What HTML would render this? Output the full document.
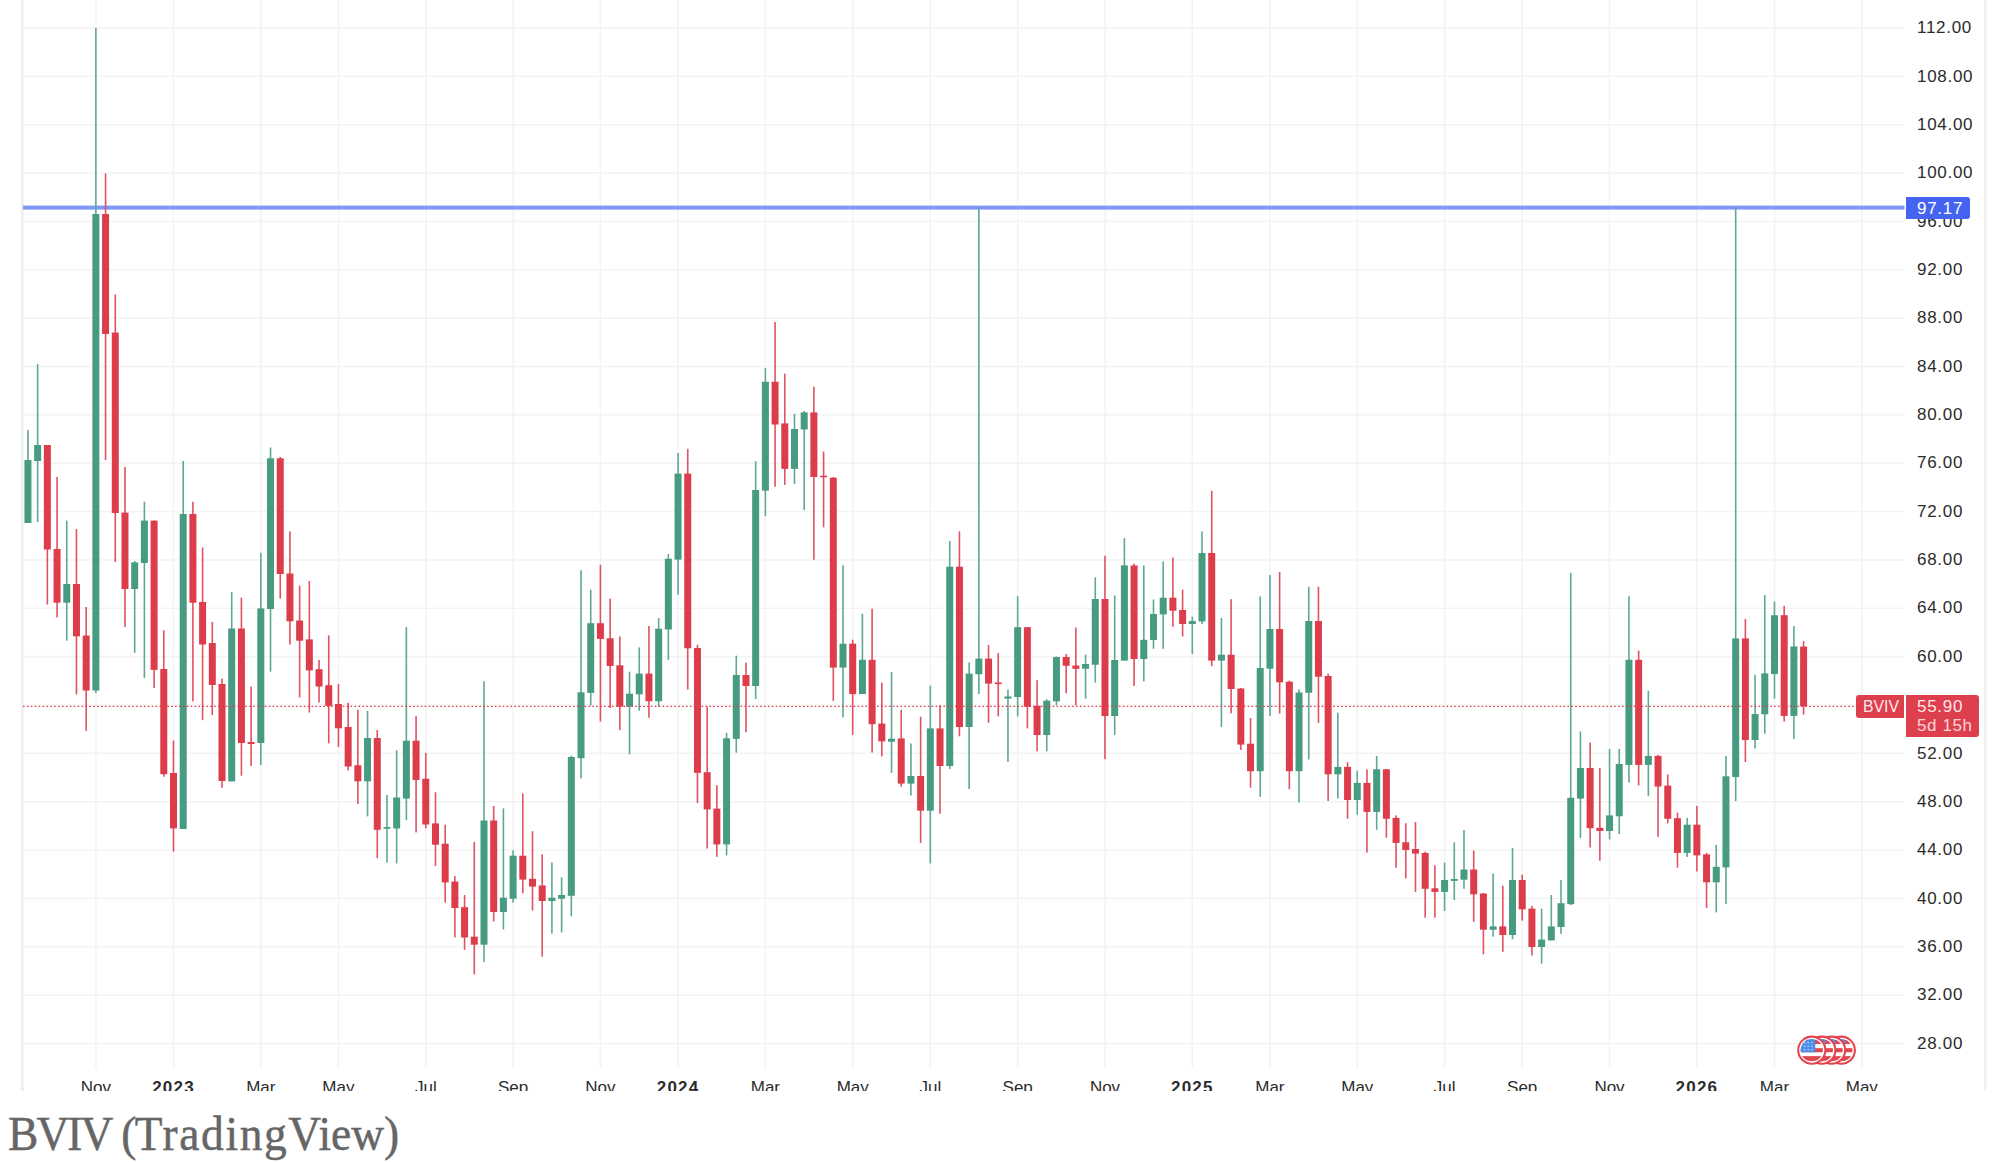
<!DOCTYPE html>
<html><head><meta charset="utf-8"><title>BVIV</title>
<style>
html,body{margin:0;padding:0;background:#fff;overflow:hidden;}
body{width:1994px;height:1162px;position:relative;overflow:hidden;}
#chart{position:absolute;left:0;top:0;width:1994px;height:1091px;overflow:hidden;background:#fff;}
#cap{position:absolute;left:8px;top:1106px;font-family:'Liberation Serif',serif;font-size:48.3px;color:#666;white-space:nowrap;line-height:56px;transform-origin:0 0;transform:scaleX(0.94);-webkit-text-stroke:0.5px #666;}
</style></head><body>
<div id="chart">
<svg width="1994" height="1091" viewBox="0 0 1994 1091" style="position:absolute;left:0;top:0">
<rect x="23" y="27.29" width="1881" height="1.5" fill="#f3f3f3"/>
<rect x="23" y="75.64" width="1881" height="1.5" fill="#f3f3f3"/>
<rect x="23" y="124.00" width="1881" height="1.5" fill="#f3f3f3"/>
<rect x="23" y="172.35" width="1881" height="1.5" fill="#f3f3f3"/>
<rect x="23" y="220.71" width="1881" height="1.5" fill="#f3f3f3"/>
<rect x="23" y="269.06" width="1881" height="1.5" fill="#f3f3f3"/>
<rect x="23" y="317.42" width="1881" height="1.5" fill="#f3f3f3"/>
<rect x="23" y="365.77" width="1881" height="1.5" fill="#f3f3f3"/>
<rect x="23" y="414.13" width="1881" height="1.5" fill="#f3f3f3"/>
<rect x="23" y="462.49" width="1881" height="1.5" fill="#f3f3f3"/>
<rect x="23" y="510.84" width="1881" height="1.5" fill="#f3f3f3"/>
<rect x="23" y="559.19" width="1881" height="1.5" fill="#f3f3f3"/>
<rect x="23" y="607.55" width="1881" height="1.5" fill="#f3f3f3"/>
<rect x="23" y="655.90" width="1881" height="1.5" fill="#f3f3f3"/>
<rect x="23" y="704.26" width="1881" height="1.5" fill="#f3f3f3"/>
<rect x="23" y="752.61" width="1881" height="1.5" fill="#f3f3f3"/>
<rect x="23" y="800.97" width="1881" height="1.5" fill="#f3f3f3"/>
<rect x="23" y="849.32" width="1881" height="1.5" fill="#f3f3f3"/>
<rect x="23" y="897.68" width="1881" height="1.5" fill="#f3f3f3"/>
<rect x="23" y="946.03" width="1881" height="1.5" fill="#f3f3f3"/>
<rect x="23" y="994.39" width="1881" height="1.5" fill="#f3f3f3"/>
<rect x="23" y="1042.74" width="1881" height="1.5" fill="#f3f3f3"/>
<rect x="95.12" y="0" width="1.5" height="1068" fill="#f3f3f3"/>
<rect x="172.74" y="0" width="1.5" height="1068" fill="#f3f3f3"/>
<rect x="260.07" y="0" width="1.5" height="1068" fill="#f3f3f3"/>
<rect x="337.70" y="0" width="1.5" height="1068" fill="#f3f3f3"/>
<rect x="425.02" y="0" width="1.5" height="1068" fill="#f3f3f3"/>
<rect x="512.35" y="0" width="1.5" height="1068" fill="#f3f3f3"/>
<rect x="599.68" y="0" width="1.5" height="1068" fill="#f3f3f3"/>
<rect x="677.30" y="0" width="1.5" height="1068" fill="#f3f3f3"/>
<rect x="764.63" y="0" width="1.5" height="1068" fill="#f3f3f3"/>
<rect x="851.96" y="0" width="1.5" height="1068" fill="#f3f3f3"/>
<rect x="929.58" y="0" width="1.5" height="1068" fill="#f3f3f3"/>
<rect x="1016.91" y="0" width="1.5" height="1068" fill="#f3f3f3"/>
<rect x="1104.23" y="0" width="1.5" height="1068" fill="#f3f3f3"/>
<rect x="1191.56" y="0" width="1.5" height="1068" fill="#f3f3f3"/>
<rect x="1269.18" y="0" width="1.5" height="1068" fill="#f3f3f3"/>
<rect x="1356.51" y="0" width="1.5" height="1068" fill="#f3f3f3"/>
<rect x="1443.84" y="0" width="1.5" height="1068" fill="#f3f3f3"/>
<rect x="1521.46" y="0" width="1.5" height="1068" fill="#f3f3f3"/>
<rect x="1608.79" y="0" width="1.5" height="1068" fill="#f3f3f3"/>
<rect x="1696.12" y="0" width="1.5" height="1068" fill="#f3f3f3"/>
<rect x="1773.74" y="0" width="1.5" height="1068" fill="#f3f3f3"/>
<rect x="1861.07" y="0" width="1.5" height="1068" fill="#f3f3f3"/>
<rect x="21.1" y="0" width="2.5" height="1091" fill="#eeeeee"/>
<rect x="1984.1" y="0" width="2.6" height="1091" fill="#f1f1f1"/>
<rect x="23" y="205.6" width="1881.5" height="4" fill="#7e97f8"/>
<rect x="27.15" y="430.0" width="1.6" height="93.0" fill="#5fa892"/>
<rect x="24.45" y="460.0" width="7" height="63.0" fill="#479b80"/>
<rect x="36.85" y="364.0" width="1.6" height="158.0" fill="#5fa892"/>
<rect x="34.15" y="445.0" width="7" height="16.0" fill="#479b80"/>
<rect x="46.56" y="445.0" width="1.6" height="159.5" fill="#e15161"/>
<rect x="43.86" y="445.0" width="7" height="104.5" fill="#dd3c4a"/>
<rect x="56.26" y="477.0" width="1.6" height="140.4" fill="#e15161"/>
<rect x="53.56" y="549.0" width="7" height="53.7" fill="#dd3c4a"/>
<rect x="65.96" y="520.6" width="1.6" height="120.1" fill="#5fa892"/>
<rect x="63.26" y="584.0" width="7" height="18.7" fill="#479b80"/>
<rect x="75.67" y="529.0" width="1.6" height="165.4" fill="#e15161"/>
<rect x="72.97" y="584.0" width="7" height="52.3" fill="#dd3c4a"/>
<rect x="85.37" y="607.0" width="1.6" height="124.0" fill="#e15161"/>
<rect x="82.67" y="635.5" width="7" height="55.0" fill="#dd3c4a"/>
<rect x="95.07" y="28.0" width="1.6" height="665.0" fill="#5fa892"/>
<rect x="92.37" y="214.0" width="7" height="476.5" fill="#479b80"/>
<rect x="104.77" y="173.5" width="1.6" height="286.5" fill="#e15161"/>
<rect x="102.07" y="214.0" width="7" height="120.0" fill="#dd3c4a"/>
<rect x="114.48" y="294.6" width="1.6" height="267.4" fill="#e15161"/>
<rect x="111.78" y="332.6" width="7" height="180.4" fill="#dd3c4a"/>
<rect x="124.18" y="467.0" width="1.6" height="160.0" fill="#e15161"/>
<rect x="121.48" y="512.6" width="7" height="76.4" fill="#dd3c4a"/>
<rect x="133.88" y="561.0" width="1.6" height="91.8" fill="#5fa892"/>
<rect x="131.18" y="562.4" width="7" height="26.6" fill="#479b80"/>
<rect x="143.59" y="501.7" width="1.6" height="176.3" fill="#5fa892"/>
<rect x="140.89" y="520.6" width="7" height="42.4" fill="#479b80"/>
<rect x="153.29" y="520.6" width="1.6" height="167.4" fill="#e15161"/>
<rect x="150.59" y="520.6" width="7" height="149.3" fill="#dd3c4a"/>
<rect x="162.99" y="630.3" width="1.6" height="146.4" fill="#e15161"/>
<rect x="160.29" y="669.0" width="7" height="105.2" fill="#dd3c4a"/>
<rect x="172.69" y="740.6" width="1.6" height="111.0" fill="#e15161"/>
<rect x="169.99" y="773.0" width="7" height="55.4" fill="#dd3c4a"/>
<rect x="182.40" y="461.0" width="1.6" height="368.0" fill="#5fa892"/>
<rect x="179.70" y="514.0" width="7" height="315.0" fill="#479b80"/>
<rect x="192.10" y="501.7" width="1.6" height="199.7" fill="#e15161"/>
<rect x="189.40" y="514.0" width="7" height="88.7" fill="#dd3c4a"/>
<rect x="201.80" y="547.4" width="1.6" height="172.8" fill="#e15161"/>
<rect x="199.10" y="602.0" width="7" height="42.5" fill="#dd3c4a"/>
<rect x="211.51" y="622.0" width="1.6" height="93.0" fill="#e15161"/>
<rect x="208.81" y="643.0" width="7" height="42.0" fill="#dd3c4a"/>
<rect x="221.21" y="678.6" width="1.6" height="109.2" fill="#e15161"/>
<rect x="218.51" y="684.0" width="7" height="97.0" fill="#dd3c4a"/>
<rect x="230.91" y="592.0" width="1.6" height="189.4" fill="#5fa892"/>
<rect x="228.21" y="628.5" width="7" height="152.9" fill="#479b80"/>
<rect x="240.62" y="597.6" width="1.6" height="178.1" fill="#e15161"/>
<rect x="237.92" y="628.5" width="7" height="114.5" fill="#dd3c4a"/>
<rect x="250.32" y="686.6" width="1.6" height="79.4" fill="#e15161"/>
<rect x="247.62" y="742.0" width="7" height="2.0" fill="#dd3c4a"/>
<rect x="260.02" y="552.8" width="1.6" height="212.2" fill="#5fa892"/>
<rect x="257.32" y="608.4" width="7" height="134.6" fill="#479b80"/>
<rect x="269.72" y="447.5" width="1.6" height="224.2" fill="#5fa892"/>
<rect x="267.02" y="458.3" width="7" height="150.7" fill="#479b80"/>
<rect x="279.43" y="457.0" width="1.6" height="141.6" fill="#e15161"/>
<rect x="276.73" y="458.3" width="7" height="115.7" fill="#dd3c4a"/>
<rect x="289.13" y="531.4" width="1.6" height="113.1" fill="#e15161"/>
<rect x="286.43" y="573.5" width="7" height="47.8" fill="#dd3c4a"/>
<rect x="298.83" y="585.6" width="1.6" height="111.9" fill="#e15161"/>
<rect x="296.13" y="620.5" width="7" height="20.2" fill="#dd3c4a"/>
<rect x="308.54" y="581.0" width="1.6" height="131.5" fill="#e15161"/>
<rect x="305.84" y="639.4" width="7" height="31.0" fill="#dd3c4a"/>
<rect x="318.24" y="660.0" width="1.6" height="42.5" fill="#e15161"/>
<rect x="315.54" y="669.2" width="7" height="17.3" fill="#dd3c4a"/>
<rect x="327.94" y="635.4" width="1.6" height="107.9" fill="#e15161"/>
<rect x="325.24" y="685.2" width="7" height="20.7" fill="#dd3c4a"/>
<rect x="337.65" y="684.0" width="1.6" height="63.0" fill="#e15161"/>
<rect x="334.95" y="704.0" width="7" height="24.3" fill="#dd3c4a"/>
<rect x="347.35" y="702.8" width="1.6" height="67.6" fill="#e15161"/>
<rect x="344.65" y="727.0" width="7" height="39.5" fill="#dd3c4a"/>
<rect x="357.05" y="709.7" width="1.6" height="94.3" fill="#e15161"/>
<rect x="354.35" y="765.2" width="7" height="16.1" fill="#dd3c4a"/>
<rect x="366.75" y="711.0" width="1.6" height="105.4" fill="#5fa892"/>
<rect x="364.05" y="738.0" width="7" height="43.3" fill="#479b80"/>
<rect x="376.46" y="730.0" width="1.6" height="128.2" fill="#e15161"/>
<rect x="373.76" y="738.0" width="7" height="91.8" fill="#dd3c4a"/>
<rect x="386.16" y="795.0" width="1.6" height="67.6" fill="#5fa892"/>
<rect x="383.46" y="827.0" width="7" height="1.7" fill="#479b80"/>
<rect x="395.86" y="750.3" width="1.6" height="113.1" fill="#5fa892"/>
<rect x="393.16" y="797.5" width="7" height="31.0" fill="#479b80"/>
<rect x="405.57" y="627.0" width="1.6" height="193.2" fill="#5fa892"/>
<rect x="402.87" y="740.7" width="7" height="57.9" fill="#479b80"/>
<rect x="415.27" y="716.2" width="1.6" height="116.2" fill="#e15161"/>
<rect x="412.57" y="740.7" width="7" height="39.3" fill="#dd3c4a"/>
<rect x="424.97" y="752.9" width="1.6" height="75.5" fill="#e15161"/>
<rect x="422.27" y="778.7" width="7" height="45.8" fill="#dd3c4a"/>
<rect x="434.68" y="792.3" width="1.6" height="73.7" fill="#e15161"/>
<rect x="431.98" y="823.4" width="7" height="21.3" fill="#dd3c4a"/>
<rect x="444.38" y="824.8" width="1.6" height="77.9" fill="#e15161"/>
<rect x="441.68" y="843.7" width="7" height="38.7" fill="#dd3c4a"/>
<rect x="454.08" y="876.0" width="1.6" height="61.5" fill="#e15161"/>
<rect x="451.38" y="881.5" width="7" height="26.5" fill="#dd3c4a"/>
<rect x="463.78" y="895.0" width="1.6" height="54.8" fill="#e15161"/>
<rect x="461.08" y="907.2" width="7" height="30.3" fill="#dd3c4a"/>
<rect x="473.49" y="842.0" width="1.6" height="132.4" fill="#e15161"/>
<rect x="470.79" y="936.7" width="7" height="8.0" fill="#dd3c4a"/>
<rect x="483.19" y="681.3" width="1.6" height="280.7" fill="#5fa892"/>
<rect x="480.49" y="820.5" width="7" height="124.2" fill="#479b80"/>
<rect x="492.89" y="806.0" width="1.6" height="115.4" fill="#e15161"/>
<rect x="490.19" y="820.5" width="7" height="91.5" fill="#dd3c4a"/>
<rect x="502.60" y="808.4" width="1.6" height="121.1" fill="#5fa892"/>
<rect x="499.90" y="897.7" width="7" height="14.3" fill="#479b80"/>
<rect x="512.30" y="850.2" width="1.6" height="52.5" fill="#5fa892"/>
<rect x="509.60" y="855.7" width="7" height="43.0" fill="#479b80"/>
<rect x="522.00" y="793.4" width="1.6" height="99.8" fill="#e15161"/>
<rect x="519.30" y="855.7" width="7" height="23.9" fill="#dd3c4a"/>
<rect x="531.71" y="831.3" width="1.6" height="79.3" fill="#e15161"/>
<rect x="529.01" y="878.8" width="7" height="7.8" fill="#dd3c4a"/>
<rect x="541.41" y="854.4" width="1.6" height="102.2" fill="#e15161"/>
<rect x="538.71" y="885.5" width="7" height="15.5" fill="#dd3c4a"/>
<rect x="551.11" y="862.4" width="1.6" height="71.3" fill="#5fa892"/>
<rect x="548.41" y="897.7" width="7" height="3.3" fill="#479b80"/>
<rect x="560.82" y="877.3" width="1.6" height="55.1" fill="#5fa892"/>
<rect x="558.12" y="895.0" width="7" height="3.7" fill="#479b80"/>
<rect x="570.52" y="755.7" width="1.6" height="160.6" fill="#5fa892"/>
<rect x="567.82" y="757.0" width="7" height="138.8" fill="#479b80"/>
<rect x="580.22" y="570.3" width="1.6" height="208.0" fill="#5fa892"/>
<rect x="577.52" y="692.3" width="7" height="65.9" fill="#479b80"/>
<rect x="589.92" y="589.6" width="1.6" height="115.9" fill="#5fa892"/>
<rect x="587.22" y="623.2" width="7" height="69.7" fill="#479b80"/>
<rect x="599.63" y="564.8" width="1.6" height="156.8" fill="#e15161"/>
<rect x="596.93" y="623.2" width="7" height="15.7" fill="#dd3c4a"/>
<rect x="609.33" y="598.7" width="1.6" height="109.3" fill="#e15161"/>
<rect x="606.63" y="638.3" width="7" height="27.7" fill="#dd3c4a"/>
<rect x="619.03" y="636.4" width="1.6" height="93.6" fill="#e15161"/>
<rect x="616.33" y="665.3" width="7" height="41.4" fill="#dd3c4a"/>
<rect x="628.74" y="671.7" width="1.6" height="82.6" fill="#5fa892"/>
<rect x="626.04" y="693.7" width="7" height="13.0" fill="#479b80"/>
<rect x="638.44" y="647.4" width="1.6" height="63.4" fill="#5fa892"/>
<rect x="635.74" y="673.6" width="7" height="20.7" fill="#479b80"/>
<rect x="648.14" y="626.0" width="1.6" height="91.7" fill="#e15161"/>
<rect x="645.44" y="673.6" width="7" height="27.6" fill="#dd3c4a"/>
<rect x="657.85" y="618.0" width="1.6" height="88.7" fill="#5fa892"/>
<rect x="655.14" y="628.7" width="7" height="72.5" fill="#479b80"/>
<rect x="667.55" y="554.0" width="1.6" height="105.8" fill="#5fa892"/>
<rect x="664.85" y="558.7" width="7" height="70.8" fill="#479b80"/>
<rect x="677.25" y="452.9" width="1.6" height="141.8" fill="#5fa892"/>
<rect x="674.55" y="473.6" width="7" height="86.0" fill="#479b80"/>
<rect x="686.95" y="448.8" width="1.6" height="240.8" fill="#e15161"/>
<rect x="684.25" y="473.6" width="7" height="174.7" fill="#dd3c4a"/>
<rect x="696.66" y="644.7" width="1.6" height="158.3" fill="#e15161"/>
<rect x="693.96" y="648.0" width="7" height="124.8" fill="#dd3c4a"/>
<rect x="706.36" y="706.7" width="1.6" height="141.8" fill="#e15161"/>
<rect x="703.66" y="772.2" width="7" height="37.2" fill="#dd3c4a"/>
<rect x="716.06" y="785.2" width="1.6" height="71.6" fill="#e15161"/>
<rect x="713.36" y="808.6" width="7" height="35.8" fill="#dd3c4a"/>
<rect x="725.77" y="732.8" width="1.6" height="122.6" fill="#5fa892"/>
<rect x="723.07" y="738.3" width="7" height="106.1" fill="#479b80"/>
<rect x="735.47" y="655.7" width="1.6" height="97.0" fill="#5fa892"/>
<rect x="732.77" y="675.0" width="7" height="63.9" fill="#479b80"/>
<rect x="745.17" y="662.6" width="1.6" height="69.7" fill="#e15161"/>
<rect x="742.47" y="675.0" width="7" height="11.0" fill="#dd3c4a"/>
<rect x="754.88" y="461.2" width="1.6" height="237.8" fill="#5fa892"/>
<rect x="752.17" y="490.0" width="7" height="196.0" fill="#479b80"/>
<rect x="764.58" y="368.0" width="1.6" height="148.3" fill="#5fa892"/>
<rect x="761.88" y="381.8" width="7" height="108.8" fill="#479b80"/>
<rect x="774.28" y="322.0" width="1.6" height="164.8" fill="#e15161"/>
<rect x="771.58" y="381.8" width="7" height="42.7" fill="#dd3c4a"/>
<rect x="783.98" y="373.6" width="1.6" height="111.4" fill="#e15161"/>
<rect x="781.28" y="423.4" width="7" height="45.5" fill="#dd3c4a"/>
<rect x="793.69" y="413.8" width="1.6" height="70.2" fill="#5fa892"/>
<rect x="790.99" y="429.0" width="7" height="39.9" fill="#479b80"/>
<rect x="803.39" y="411.0" width="1.6" height="99.0" fill="#5fa892"/>
<rect x="800.69" y="412.4" width="7" height="17.1" fill="#479b80"/>
<rect x="813.09" y="386.8" width="1.6" height="173.0" fill="#e15161"/>
<rect x="810.39" y="412.4" width="7" height="64.6" fill="#dd3c4a"/>
<rect x="822.80" y="451.5" width="1.6" height="75.8" fill="#e15161"/>
<rect x="820.10" y="475.7" width="7" height="1.6" fill="#dd3c4a"/>
<rect x="832.50" y="477.0" width="1.6" height="224.0" fill="#e15161"/>
<rect x="829.80" y="477.7" width="7" height="189.9" fill="#dd3c4a"/>
<rect x="842.20" y="565.3" width="1.6" height="152.2" fill="#5fa892"/>
<rect x="839.50" y="643.7" width="7" height="23.9" fill="#479b80"/>
<rect x="851.91" y="639.7" width="1.6" height="95.2" fill="#e15161"/>
<rect x="849.21" y="643.7" width="7" height="50.4" fill="#dd3c4a"/>
<rect x="861.61" y="613.8" width="1.6" height="80.2" fill="#5fa892"/>
<rect x="858.91" y="659.8" width="7" height="34.2" fill="#479b80"/>
<rect x="871.31" y="608.7" width="1.6" height="143.8" fill="#e15161"/>
<rect x="868.61" y="659.8" width="7" height="64.4" fill="#dd3c4a"/>
<rect x="881.01" y="682.7" width="1.6" height="73.7" fill="#e15161"/>
<rect x="878.31" y="723.6" width="7" height="17.8" fill="#dd3c4a"/>
<rect x="890.72" y="672.0" width="1.6" height="101.0" fill="#5fa892"/>
<rect x="888.02" y="738.7" width="7" height="3.0" fill="#479b80"/>
<rect x="900.42" y="709.8" width="1.6" height="76.8" fill="#e15161"/>
<rect x="897.72" y="738.4" width="7" height="45.2" fill="#dd3c4a"/>
<rect x="910.12" y="743.5" width="1.6" height="52.1" fill="#5fa892"/>
<rect x="907.42" y="776.0" width="7" height="7.6" fill="#479b80"/>
<rect x="919.83" y="716.7" width="1.6" height="126.2" fill="#e15161"/>
<rect x="917.13" y="776.0" width="7" height="34.7" fill="#dd3c4a"/>
<rect x="929.53" y="685.7" width="1.6" height="177.7" fill="#5fa892"/>
<rect x="926.83" y="728.4" width="7" height="82.3" fill="#479b80"/>
<rect x="939.23" y="705.2" width="1.6" height="108.5" fill="#e15161"/>
<rect x="936.53" y="728.4" width="7" height="37.6" fill="#dd3c4a"/>
<rect x="948.94" y="541.0" width="1.6" height="228.0" fill="#5fa892"/>
<rect x="946.24" y="566.7" width="7" height="199.3" fill="#479b80"/>
<rect x="958.64" y="531.4" width="1.6" height="204.9" fill="#e15161"/>
<rect x="955.94" y="566.7" width="7" height="160.3" fill="#dd3c4a"/>
<rect x="968.34" y="662.5" width="1.6" height="126.5" fill="#5fa892"/>
<rect x="965.64" y="673.6" width="7" height="53.4" fill="#479b80"/>
<rect x="978.04" y="207.0" width="1.6" height="487.0" fill="#5fa892"/>
<rect x="975.34" y="658.6" width="7" height="15.6" fill="#479b80"/>
<rect x="987.75" y="645.0" width="1.6" height="77.7" fill="#e15161"/>
<rect x="985.05" y="658.6" width="7" height="25.0" fill="#dd3c4a"/>
<rect x="997.45" y="653.0" width="1.6" height="63.4" fill="#e15161"/>
<rect x="994.75" y="682.5" width="7" height="1.6" fill="#dd3c4a"/>
<rect x="1007.15" y="689.6" width="1.6" height="72.3" fill="#5fa892"/>
<rect x="1004.45" y="696.5" width="7" height="2.1" fill="#479b80"/>
<rect x="1016.86" y="596.2" width="1.6" height="120.2" fill="#5fa892"/>
<rect x="1014.16" y="627.2" width="7" height="69.8" fill="#479b80"/>
<rect x="1026.56" y="627.0" width="1.6" height="101.4" fill="#e15161"/>
<rect x="1023.86" y="627.2" width="7" height="79.5" fill="#dd3c4a"/>
<rect x="1036.26" y="680.2" width="1.6" height="71.1" fill="#e15161"/>
<rect x="1033.56" y="705.8" width="7" height="29.2" fill="#dd3c4a"/>
<rect x="1045.96" y="699.2" width="1.6" height="52.1" fill="#5fa892"/>
<rect x="1043.26" y="700.7" width="7" height="34.3" fill="#479b80"/>
<rect x="1055.67" y="656.5" width="1.6" height="48.7" fill="#5fa892"/>
<rect x="1052.97" y="657.0" width="7" height="44.3" fill="#479b80"/>
<rect x="1065.37" y="654.0" width="1.6" height="39.2" fill="#e15161"/>
<rect x="1062.67" y="657.0" width="7" height="8.8" fill="#dd3c4a"/>
<rect x="1075.07" y="627.5" width="1.6" height="77.7" fill="#e15161"/>
<rect x="1072.37" y="665.5" width="7" height="3.3" fill="#dd3c4a"/>
<rect x="1084.78" y="654.6" width="1.6" height="44.0" fill="#5fa892"/>
<rect x="1082.08" y="664.0" width="7" height="4.8" fill="#479b80"/>
<rect x="1094.48" y="577.3" width="1.6" height="105.2" fill="#5fa892"/>
<rect x="1091.78" y="599.0" width="7" height="65.7" fill="#479b80"/>
<rect x="1104.18" y="555.8" width="1.6" height="203.4" fill="#e15161"/>
<rect x="1101.48" y="599.0" width="7" height="117.0" fill="#dd3c4a"/>
<rect x="1113.89" y="595.3" width="1.6" height="139.7" fill="#5fa892"/>
<rect x="1111.19" y="660.0" width="7" height="56.0" fill="#479b80"/>
<rect x="1123.59" y="538.1" width="1.6" height="122.5" fill="#5fa892"/>
<rect x="1120.89" y="565.4" width="7" height="95.2" fill="#479b80"/>
<rect x="1133.29" y="563.6" width="1.6" height="122.4" fill="#e15161"/>
<rect x="1130.59" y="565.5" width="7" height="93.5" fill="#dd3c4a"/>
<rect x="1143.00" y="565.5" width="1.6" height="115.9" fill="#5fa892"/>
<rect x="1140.30" y="639.8" width="7" height="19.2" fill="#479b80"/>
<rect x="1152.70" y="599.5" width="1.6" height="49.3" fill="#5fa892"/>
<rect x="1150.00" y="614.0" width="7" height="26.0" fill="#479b80"/>
<rect x="1162.40" y="561.4" width="1.6" height="87.4" fill="#5fa892"/>
<rect x="1159.70" y="597.7" width="7" height="16.7" fill="#479b80"/>
<rect x="1172.10" y="557.4" width="1.6" height="69.4" fill="#e15161"/>
<rect x="1169.40" y="597.7" width="7" height="13.0" fill="#dd3c4a"/>
<rect x="1181.81" y="589.6" width="1.6" height="46.8" fill="#e15161"/>
<rect x="1179.11" y="610.0" width="7" height="14.0" fill="#dd3c4a"/>
<rect x="1191.51" y="616.6" width="1.6" height="37.4" fill="#5fa892"/>
<rect x="1188.81" y="621.0" width="7" height="3.0" fill="#479b80"/>
<rect x="1201.21" y="531.4" width="1.6" height="92.6" fill="#5fa892"/>
<rect x="1198.51" y="553.0" width="7" height="68.5" fill="#479b80"/>
<rect x="1210.92" y="490.8" width="1.6" height="175.4" fill="#e15161"/>
<rect x="1208.22" y="553.0" width="7" height="107.6" fill="#dd3c4a"/>
<rect x="1220.62" y="618.0" width="1.6" height="109.0" fill="#5fa892"/>
<rect x="1217.92" y="654.7" width="7" height="5.9" fill="#479b80"/>
<rect x="1230.32" y="599.2" width="1.6" height="114.1" fill="#e15161"/>
<rect x="1227.62" y="654.7" width="7" height="34.3" fill="#dd3c4a"/>
<rect x="1240.03" y="688.0" width="1.6" height="61.9" fill="#e15161"/>
<rect x="1237.33" y="688.5" width="7" height="56.1" fill="#dd3c4a"/>
<rect x="1249.73" y="718.0" width="1.6" height="69.7" fill="#e15161"/>
<rect x="1247.03" y="743.7" width="7" height="27.5" fill="#dd3c4a"/>
<rect x="1259.43" y="596.4" width="1.6" height="200.6" fill="#5fa892"/>
<rect x="1256.73" y="668.0" width="7" height="103.2" fill="#479b80"/>
<rect x="1269.13" y="575.0" width="1.6" height="141.0" fill="#5fa892"/>
<rect x="1266.43" y="629.0" width="7" height="39.7" fill="#479b80"/>
<rect x="1278.84" y="572.0" width="1.6" height="141.6" fill="#e15161"/>
<rect x="1276.14" y="629.0" width="7" height="53.3" fill="#dd3c4a"/>
<rect x="1288.54" y="680.7" width="1.6" height="108.5" fill="#e15161"/>
<rect x="1285.84" y="681.7" width="7" height="89.5" fill="#dd3c4a"/>
<rect x="1298.24" y="689.4" width="1.6" height="113.1" fill="#5fa892"/>
<rect x="1295.54" y="692.5" width="7" height="78.7" fill="#479b80"/>
<rect x="1307.95" y="586.8" width="1.6" height="172.7" fill="#5fa892"/>
<rect x="1305.25" y="621.0" width="7" height="71.8" fill="#479b80"/>
<rect x="1317.65" y="586.8" width="1.6" height="136.1" fill="#e15161"/>
<rect x="1314.95" y="621.0" width="7" height="55.7" fill="#dd3c4a"/>
<rect x="1327.35" y="673.6" width="1.6" height="127.4" fill="#e15161"/>
<rect x="1324.65" y="676.0" width="7" height="98.3" fill="#dd3c4a"/>
<rect x="1337.06" y="712.7" width="1.6" height="85.8" fill="#5fa892"/>
<rect x="1334.36" y="766.9" width="7" height="7.4" fill="#479b80"/>
<rect x="1346.76" y="762.3" width="1.6" height="56.5" fill="#e15161"/>
<rect x="1344.06" y="766.9" width="7" height="33.1" fill="#dd3c4a"/>
<rect x="1356.46" y="770.6" width="1.6" height="44.1" fill="#5fa892"/>
<rect x="1353.76" y="782.9" width="7" height="17.1" fill="#479b80"/>
<rect x="1366.16" y="769.3" width="1.6" height="83.3" fill="#e15161"/>
<rect x="1363.46" y="782.9" width="7" height="29.0" fill="#dd3c4a"/>
<rect x="1375.87" y="756.0" width="1.6" height="73.9" fill="#5fa892"/>
<rect x="1373.17" y="769.3" width="7" height="42.6" fill="#479b80"/>
<rect x="1385.57" y="769.0" width="1.6" height="68.7" fill="#e15161"/>
<rect x="1382.87" y="769.3" width="7" height="49.5" fill="#dd3c4a"/>
<rect x="1395.27" y="815.4" width="1.6" height="52.3" fill="#e15161"/>
<rect x="1392.57" y="817.9" width="7" height="25.0" fill="#dd3c4a"/>
<rect x="1404.98" y="823.3" width="1.6" height="55.1" fill="#e15161"/>
<rect x="1402.28" y="842.3" width="7" height="7.6" fill="#dd3c4a"/>
<rect x="1414.68" y="822.0" width="1.6" height="69.9" fill="#e15161"/>
<rect x="1411.98" y="849.0" width="7" height="4.6" fill="#dd3c4a"/>
<rect x="1424.38" y="851.6" width="1.6" height="66.1" fill="#e15161"/>
<rect x="1421.68" y="853.0" width="7" height="35.8" fill="#dd3c4a"/>
<rect x="1434.09" y="865.2" width="1.6" height="52.5" fill="#e15161"/>
<rect x="1431.38" y="888.3" width="7" height="3.6" fill="#dd3c4a"/>
<rect x="1443.79" y="862.5" width="1.6" height="48.4" fill="#5fa892"/>
<rect x="1441.09" y="880.0" width="7" height="11.9" fill="#479b80"/>
<rect x="1453.49" y="842.3" width="1.6" height="57.7" fill="#5fa892"/>
<rect x="1450.79" y="879.0" width="7" height="1.9" fill="#479b80"/>
<rect x="1463.19" y="830.0" width="1.6" height="58.8" fill="#5fa892"/>
<rect x="1460.49" y="869.5" width="7" height="10.2" fill="#479b80"/>
<rect x="1472.90" y="850.5" width="1.6" height="71.3" fill="#e15161"/>
<rect x="1470.20" y="869.5" width="7" height="24.8" fill="#dd3c4a"/>
<rect x="1482.60" y="893.0" width="1.6" height="61.3" fill="#e15161"/>
<rect x="1479.90" y="893.5" width="7" height="36.2" fill="#dd3c4a"/>
<rect x="1492.30" y="873.5" width="1.6" height="63.2" fill="#5fa892"/>
<rect x="1489.60" y="926.4" width="7" height="3.3" fill="#479b80"/>
<rect x="1502.01" y="885.7" width="1.6" height="66.1" fill="#e15161"/>
<rect x="1499.31" y="926.4" width="7" height="8.6" fill="#dd3c4a"/>
<rect x="1511.71" y="847.9" width="1.6" height="91.3" fill="#5fa892"/>
<rect x="1509.01" y="880.0" width="7" height="55.0" fill="#479b80"/>
<rect x="1521.41" y="874.7" width="1.6" height="45.9" fill="#e15161"/>
<rect x="1518.71" y="880.0" width="7" height="29.4" fill="#dd3c4a"/>
<rect x="1531.12" y="905.9" width="1.6" height="49.6" fill="#e15161"/>
<rect x="1528.41" y="908.6" width="7" height="38.4" fill="#dd3c4a"/>
<rect x="1540.82" y="908.6" width="1.6" height="55.0" fill="#5fa892"/>
<rect x="1538.12" y="939.6" width="7" height="7.4" fill="#479b80"/>
<rect x="1550.52" y="895.0" width="1.6" height="45.4" fill="#5fa892"/>
<rect x="1547.82" y="926.4" width="7" height="14.0" fill="#479b80"/>
<rect x="1560.22" y="880.0" width="1.6" height="53.8" fill="#5fa892"/>
<rect x="1557.52" y="903.2" width="7" height="23.8" fill="#479b80"/>
<rect x="1569.93" y="573.0" width="1.6" height="332.0" fill="#5fa892"/>
<rect x="1567.23" y="797.8" width="7" height="106.4" fill="#479b80"/>
<rect x="1579.63" y="731.4" width="1.6" height="106.6" fill="#5fa892"/>
<rect x="1576.93" y="768.0" width="7" height="30.6" fill="#479b80"/>
<rect x="1589.33" y="742.5" width="1.6" height="105.0" fill="#e15161"/>
<rect x="1586.63" y="768.0" width="7" height="60.2" fill="#dd3c4a"/>
<rect x="1599.04" y="768.0" width="1.6" height="92.7" fill="#e15161"/>
<rect x="1596.34" y="827.8" width="7" height="3.2" fill="#dd3c4a"/>
<rect x="1608.74" y="749.0" width="1.6" height="90.4" fill="#5fa892"/>
<rect x="1606.04" y="815.4" width="7" height="15.6" fill="#479b80"/>
<rect x="1618.44" y="749.0" width="1.6" height="85.0" fill="#5fa892"/>
<rect x="1615.74" y="764.0" width="7" height="52.3" fill="#479b80"/>
<rect x="1628.14" y="596.3" width="1.6" height="186.2" fill="#5fa892"/>
<rect x="1625.44" y="659.8" width="7" height="105.1" fill="#479b80"/>
<rect x="1637.85" y="650.5" width="1.6" height="134.8" fill="#e15161"/>
<rect x="1635.15" y="659.8" width="7" height="105.1" fill="#dd3c4a"/>
<rect x="1647.55" y="690.8" width="1.6" height="105.4" fill="#5fa892"/>
<rect x="1644.85" y="755.9" width="7" height="9.0" fill="#479b80"/>
<rect x="1657.25" y="755.0" width="1.6" height="81.8" fill="#e15161"/>
<rect x="1654.55" y="755.9" width="7" height="30.6" fill="#dd3c4a"/>
<rect x="1666.96" y="774.5" width="1.6" height="48.9" fill="#e15161"/>
<rect x="1664.26" y="785.6" width="7" height="33.2" fill="#dd3c4a"/>
<rect x="1676.66" y="812.6" width="1.6" height="55.1" fill="#e15161"/>
<rect x="1673.96" y="818.2" width="7" height="34.7" fill="#dd3c4a"/>
<rect x="1686.36" y="817.9" width="1.6" height="39.0" fill="#5fa892"/>
<rect x="1683.66" y="824.7" width="7" height="28.2" fill="#479b80"/>
<rect x="1696.07" y="805.8" width="1.6" height="65.7" fill="#e15161"/>
<rect x="1693.37" y="824.7" width="7" height="30.7" fill="#dd3c4a"/>
<rect x="1705.77" y="852.9" width="1.6" height="55.1" fill="#e15161"/>
<rect x="1703.07" y="854.4" width="7" height="27.9" fill="#dd3c4a"/>
<rect x="1715.47" y="845.0" width="1.6" height="67.4" fill="#5fa892"/>
<rect x="1712.77" y="866.8" width="7" height="15.5" fill="#479b80"/>
<rect x="1725.17" y="755.9" width="1.6" height="148.1" fill="#5fa892"/>
<rect x="1722.47" y="776.3" width="7" height="91.1" fill="#479b80"/>
<rect x="1734.88" y="207.0" width="1.6" height="594.0" fill="#5fa892"/>
<rect x="1732.18" y="638.4" width="7" height="138.6" fill="#479b80"/>
<rect x="1744.58" y="618.9" width="1.6" height="143.1" fill="#e15161"/>
<rect x="1741.88" y="638.4" width="7" height="101.6" fill="#dd3c4a"/>
<rect x="1754.28" y="674.7" width="1.6" height="73.7" fill="#5fa892"/>
<rect x="1751.58" y="714.0" width="7" height="26.0" fill="#479b80"/>
<rect x="1763.99" y="595.0" width="1.6" height="138.6" fill="#5fa892"/>
<rect x="1761.29" y="673.4" width="7" height="40.9" fill="#479b80"/>
<rect x="1773.69" y="601.5" width="1.6" height="97.0" fill="#5fa892"/>
<rect x="1770.99" y="615.2" width="7" height="58.8" fill="#479b80"/>
<rect x="1783.39" y="605.9" width="1.6" height="115.6" fill="#e15161"/>
<rect x="1780.69" y="615.2" width="7" height="100.7" fill="#dd3c4a"/>
<rect x="1793.10" y="626.0" width="1.6" height="113.0" fill="#5fa892"/>
<rect x="1790.40" y="646.5" width="7" height="69.4" fill="#479b80"/>
<rect x="1802.80" y="640.9" width="1.6" height="73.7" fill="#e15161"/>
<rect x="1800.10" y="646.5" width="7" height="59.8" fill="#dd3c4a"/>
<line x1="23" y1="706.3" x2="1856" y2="706.3" stroke="#dd3c4a" stroke-width="1.3" stroke-dasharray="1.6 2.3"/>
<g transform="translate(1841.3,1050.2)"><circle r="14.6" fill="#e4434f"/><circle r="12.5" fill="#ffffff"/><clipPath id="fc0"><circle r="11.1"/></clipPath><g clip-path="url(#fc0)"><rect x="-12" y="-12" width="24" height="24" fill="#ffffff"/><rect x="-12" y="-10.25" width="24" height="4.1" fill="#e2474f"/><rect x="-12" y="-2.05" width="24" height="4.1" fill="#e2474f"/><rect x="-12" y="6.15" width="24" height="4.1" fill="#e2474f"/><rect x="-12" y="6.15" width="24" height="6" fill="#e2474f"/><rect x="-12" y="-12" width="15.5" height="14.1" fill="#4a8eea"/><rect x="-8.0" y="-8.2" width="1.7" height="1.2" fill="#b9d5f8"/><rect x="-4.4" y="-8.2" width="1.7" height="1.2" fill="#b9d5f8"/><rect x="-0.8" y="-8.2" width="1.7" height="1.2" fill="#b9d5f8"/><rect x="-8.0" y="-4.6" width="1.7" height="1.2" fill="#b9d5f8"/><rect x="-4.4" y="-4.6" width="1.7" height="1.2" fill="#b9d5f8"/><rect x="-0.8" y="-4.6" width="1.7" height="1.2" fill="#b9d5f8"/><rect x="-8.0" y="-1.0" width="1.7" height="1.2" fill="#b9d5f8"/><rect x="-4.4" y="-1.0" width="1.7" height="1.2" fill="#b9d5f8"/><rect x="-0.8" y="-1.0" width="1.7" height="1.2" fill="#b9d5f8"/></g></g>
<g transform="translate(1831.6,1050.2)"><circle r="14.6" fill="#e4434f"/><circle r="12.5" fill="#ffffff"/><clipPath id="fc1"><circle r="11.1"/></clipPath><g clip-path="url(#fc1)"><rect x="-12" y="-12" width="24" height="24" fill="#ffffff"/><rect x="-12" y="-10.25" width="24" height="4.1" fill="#e2474f"/><rect x="-12" y="-2.05" width="24" height="4.1" fill="#e2474f"/><rect x="-12" y="6.15" width="24" height="4.1" fill="#e2474f"/><rect x="-12" y="6.15" width="24" height="6" fill="#e2474f"/><rect x="-12" y="-12" width="15.5" height="14.1" fill="#4a8eea"/><rect x="-8.0" y="-8.2" width="1.7" height="1.2" fill="#b9d5f8"/><rect x="-4.4" y="-8.2" width="1.7" height="1.2" fill="#b9d5f8"/><rect x="-0.8" y="-8.2" width="1.7" height="1.2" fill="#b9d5f8"/><rect x="-8.0" y="-4.6" width="1.7" height="1.2" fill="#b9d5f8"/><rect x="-4.4" y="-4.6" width="1.7" height="1.2" fill="#b9d5f8"/><rect x="-0.8" y="-4.6" width="1.7" height="1.2" fill="#b9d5f8"/><rect x="-8.0" y="-1.0" width="1.7" height="1.2" fill="#b9d5f8"/><rect x="-4.4" y="-1.0" width="1.7" height="1.2" fill="#b9d5f8"/><rect x="-0.8" y="-1.0" width="1.7" height="1.2" fill="#b9d5f8"/></g></g>
<g transform="translate(1821.8,1050.2)"><circle r="14.6" fill="#e4434f"/><circle r="12.5" fill="#ffffff"/><clipPath id="fc2"><circle r="11.1"/></clipPath><g clip-path="url(#fc2)"><rect x="-12" y="-12" width="24" height="24" fill="#ffffff"/><rect x="-12" y="-10.25" width="24" height="4.1" fill="#e2474f"/><rect x="-12" y="-2.05" width="24" height="4.1" fill="#e2474f"/><rect x="-12" y="6.15" width="24" height="4.1" fill="#e2474f"/><rect x="-12" y="6.15" width="24" height="6" fill="#e2474f"/><rect x="-12" y="-12" width="15.5" height="14.1" fill="#4a8eea"/><rect x="-8.0" y="-8.2" width="1.7" height="1.2" fill="#b9d5f8"/><rect x="-4.4" y="-8.2" width="1.7" height="1.2" fill="#b9d5f8"/><rect x="-0.8" y="-8.2" width="1.7" height="1.2" fill="#b9d5f8"/><rect x="-8.0" y="-4.6" width="1.7" height="1.2" fill="#b9d5f8"/><rect x="-4.4" y="-4.6" width="1.7" height="1.2" fill="#b9d5f8"/><rect x="-0.8" y="-4.6" width="1.7" height="1.2" fill="#b9d5f8"/><rect x="-8.0" y="-1.0" width="1.7" height="1.2" fill="#b9d5f8"/><rect x="-4.4" y="-1.0" width="1.7" height="1.2" fill="#b9d5f8"/><rect x="-0.8" y="-1.0" width="1.7" height="1.2" fill="#b9d5f8"/></g></g>
<g transform="translate(1811.8,1050.2)"><circle r="14.6" fill="#e4434f"/><circle r="12.5" fill="#ffffff"/><clipPath id="fc3"><circle r="11.1"/></clipPath><g clip-path="url(#fc3)"><rect x="-12" y="-12" width="24" height="24" fill="#ffffff"/><rect x="-12" y="-10.25" width="24" height="4.1" fill="#e2474f"/><rect x="-12" y="-2.05" width="24" height="4.1" fill="#e2474f"/><rect x="-12" y="6.15" width="24" height="4.1" fill="#e2474f"/><rect x="-12" y="6.15" width="24" height="6" fill="#e2474f"/><rect x="-12" y="-12" width="15.5" height="14.1" fill="#4a8eea"/><rect x="-8.0" y="-8.2" width="1.7" height="1.2" fill="#b9d5f8"/><rect x="-4.4" y="-8.2" width="1.7" height="1.2" fill="#b9d5f8"/><rect x="-0.8" y="-8.2" width="1.7" height="1.2" fill="#b9d5f8"/><rect x="-8.0" y="-4.6" width="1.7" height="1.2" fill="#b9d5f8"/><rect x="-4.4" y="-4.6" width="1.7" height="1.2" fill="#b9d5f8"/><rect x="-0.8" y="-4.6" width="1.7" height="1.2" fill="#b9d5f8"/><rect x="-8.0" y="-1.0" width="1.7" height="1.2" fill="#b9d5f8"/><rect x="-4.4" y="-1.0" width="1.7" height="1.2" fill="#b9d5f8"/><rect x="-0.8" y="-1.0" width="1.7" height="1.2" fill="#b9d5f8"/></g></g>
</svg>
<div style="font-family:'Liberation Sans',sans-serif;font-size:17px;letter-spacing:0.6px;color:#2b2b2b;line-height:20px;white-space:nowrap;position:absolute;letter-spacing:0.7px;left:1917px;top:18px">112.00</div><div style="font-family:'Liberation Sans',sans-serif;font-size:17px;letter-spacing:0.6px;color:#2b2b2b;line-height:20px;white-space:nowrap;position:absolute;letter-spacing:0.7px;left:1917px;top:67px">108.00</div><div style="font-family:'Liberation Sans',sans-serif;font-size:17px;letter-spacing:0.6px;color:#2b2b2b;line-height:20px;white-space:nowrap;position:absolute;letter-spacing:0.7px;left:1917px;top:115px">104.00</div><div style="font-family:'Liberation Sans',sans-serif;font-size:17px;letter-spacing:0.6px;color:#2b2b2b;line-height:20px;white-space:nowrap;position:absolute;letter-spacing:0.7px;left:1917px;top:163px">100.00</div><div style="font-family:'Liberation Sans',sans-serif;font-size:17px;letter-spacing:0.6px;color:#2b2b2b;line-height:20px;white-space:nowrap;position:absolute;letter-spacing:0.7px;left:1917px;top:212px">96.00</div><div style="font-family:'Liberation Sans',sans-serif;font-size:17px;letter-spacing:0.6px;color:#2b2b2b;line-height:20px;white-space:nowrap;position:absolute;letter-spacing:0.7px;left:1917px;top:260px">92.00</div><div style="font-family:'Liberation Sans',sans-serif;font-size:17px;letter-spacing:0.6px;color:#2b2b2b;line-height:20px;white-space:nowrap;position:absolute;letter-spacing:0.7px;left:1917px;top:308px">88.00</div><div style="font-family:'Liberation Sans',sans-serif;font-size:17px;letter-spacing:0.6px;color:#2b2b2b;line-height:20px;white-space:nowrap;position:absolute;letter-spacing:0.7px;left:1917px;top:357px">84.00</div><div style="font-family:'Liberation Sans',sans-serif;font-size:17px;letter-spacing:0.6px;color:#2b2b2b;line-height:20px;white-space:nowrap;position:absolute;letter-spacing:0.7px;left:1917px;top:405px">80.00</div><div style="font-family:'Liberation Sans',sans-serif;font-size:17px;letter-spacing:0.6px;color:#2b2b2b;line-height:20px;white-space:nowrap;position:absolute;letter-spacing:0.7px;left:1917px;top:453px">76.00</div><div style="font-family:'Liberation Sans',sans-serif;font-size:17px;letter-spacing:0.6px;color:#2b2b2b;line-height:20px;white-space:nowrap;position:absolute;letter-spacing:0.7px;left:1917px;top:502px">72.00</div><div style="font-family:'Liberation Sans',sans-serif;font-size:17px;letter-spacing:0.6px;color:#2b2b2b;line-height:20px;white-space:nowrap;position:absolute;letter-spacing:0.7px;left:1917px;top:550px">68.00</div><div style="font-family:'Liberation Sans',sans-serif;font-size:17px;letter-spacing:0.6px;color:#2b2b2b;line-height:20px;white-space:nowrap;position:absolute;letter-spacing:0.7px;left:1917px;top:598px">64.00</div><div style="font-family:'Liberation Sans',sans-serif;font-size:17px;letter-spacing:0.6px;color:#2b2b2b;line-height:20px;white-space:nowrap;position:absolute;letter-spacing:0.7px;left:1917px;top:647px">60.00</div><div style="font-family:'Liberation Sans',sans-serif;font-size:17px;letter-spacing:0.6px;color:#2b2b2b;line-height:20px;white-space:nowrap;position:absolute;letter-spacing:0.7px;left:1917px;top:695px">56.00</div><div style="font-family:'Liberation Sans',sans-serif;font-size:17px;letter-spacing:0.6px;color:#2b2b2b;line-height:20px;white-space:nowrap;position:absolute;letter-spacing:0.7px;left:1917px;top:744px">52.00</div><div style="font-family:'Liberation Sans',sans-serif;font-size:17px;letter-spacing:0.6px;color:#2b2b2b;line-height:20px;white-space:nowrap;position:absolute;letter-spacing:0.7px;left:1917px;top:792px">48.00</div><div style="font-family:'Liberation Sans',sans-serif;font-size:17px;letter-spacing:0.6px;color:#2b2b2b;line-height:20px;white-space:nowrap;position:absolute;letter-spacing:0.7px;left:1917px;top:840px">44.00</div><div style="font-family:'Liberation Sans',sans-serif;font-size:17px;letter-spacing:0.6px;color:#2b2b2b;line-height:20px;white-space:nowrap;position:absolute;letter-spacing:0.7px;left:1917px;top:889px">40.00</div><div style="font-family:'Liberation Sans',sans-serif;font-size:17px;letter-spacing:0.6px;color:#2b2b2b;line-height:20px;white-space:nowrap;position:absolute;letter-spacing:0.7px;left:1917px;top:937px">36.00</div><div style="font-family:'Liberation Sans',sans-serif;font-size:17px;letter-spacing:0.6px;color:#2b2b2b;line-height:20px;white-space:nowrap;position:absolute;letter-spacing:0.7px;left:1917px;top:985px">32.00</div><div style="font-family:'Liberation Sans',sans-serif;font-size:17px;letter-spacing:0.6px;color:#2b2b2b;line-height:20px;white-space:nowrap;position:absolute;letter-spacing:0.7px;left:1917px;top:1034px">28.00</div><div style="font-family:'Liberation Sans',sans-serif;font-size:17px;letter-spacing:0.6px;color:#2b2b2b;line-height:20px;white-space:nowrap;position:absolute;letter-spacing:0px;left:45.9px;width:100px;text-align:center;top:1078px">Nov</div><div style="font-family:'Liberation Sans',sans-serif;font-size:17px;letter-spacing:0.6px;color:#2b2b2b;line-height:20px;white-space:nowrap;position:absolute;font-weight:bold;letter-spacing:1.2px;left:123.5px;width:100px;text-align:center;top:1078px">2023</div><div style="font-family:'Liberation Sans',sans-serif;font-size:17px;letter-spacing:0.6px;color:#2b2b2b;line-height:20px;white-space:nowrap;position:absolute;letter-spacing:0px;left:210.8px;width:100px;text-align:center;top:1078px">Mar</div><div style="font-family:'Liberation Sans',sans-serif;font-size:17px;letter-spacing:0.6px;color:#2b2b2b;line-height:20px;white-space:nowrap;position:absolute;letter-spacing:0px;left:288.4px;width:100px;text-align:center;top:1078px">May</div><div style="font-family:'Liberation Sans',sans-serif;font-size:17px;letter-spacing:0.6px;color:#2b2b2b;line-height:20px;white-space:nowrap;position:absolute;letter-spacing:0px;left:375.8px;width:100px;text-align:center;top:1078px">Jul</div><div style="font-family:'Liberation Sans',sans-serif;font-size:17px;letter-spacing:0.6px;color:#2b2b2b;line-height:20px;white-space:nowrap;position:absolute;letter-spacing:0px;left:463.1px;width:100px;text-align:center;top:1078px">Sep</div><div style="font-family:'Liberation Sans',sans-serif;font-size:17px;letter-spacing:0.6px;color:#2b2b2b;line-height:20px;white-space:nowrap;position:absolute;letter-spacing:0px;left:550.4px;width:100px;text-align:center;top:1078px">Nov</div><div style="font-family:'Liberation Sans',sans-serif;font-size:17px;letter-spacing:0.6px;color:#2b2b2b;line-height:20px;white-space:nowrap;position:absolute;font-weight:bold;letter-spacing:1.2px;left:628.1px;width:100px;text-align:center;top:1078px">2024</div><div style="font-family:'Liberation Sans',sans-serif;font-size:17px;letter-spacing:0.6px;color:#2b2b2b;line-height:20px;white-space:nowrap;position:absolute;letter-spacing:0px;left:715.4px;width:100px;text-align:center;top:1078px">Mar</div><div style="font-family:'Liberation Sans',sans-serif;font-size:17px;letter-spacing:0.6px;color:#2b2b2b;line-height:20px;white-space:nowrap;position:absolute;letter-spacing:0px;left:802.7px;width:100px;text-align:center;top:1078px">May</div><div style="font-family:'Liberation Sans',sans-serif;font-size:17px;letter-spacing:0.6px;color:#2b2b2b;line-height:20px;white-space:nowrap;position:absolute;letter-spacing:0px;left:880.3px;width:100px;text-align:center;top:1078px">Jul</div><div style="font-family:'Liberation Sans',sans-serif;font-size:17px;letter-spacing:0.6px;color:#2b2b2b;line-height:20px;white-space:nowrap;position:absolute;letter-spacing:0px;left:967.7px;width:100px;text-align:center;top:1078px">Sep</div><div style="font-family:'Liberation Sans',sans-serif;font-size:17px;letter-spacing:0.6px;color:#2b2b2b;line-height:20px;white-space:nowrap;position:absolute;letter-spacing:0px;left:1055.0px;width:100px;text-align:center;top:1078px">Nov</div><div style="font-family:'Liberation Sans',sans-serif;font-size:17px;letter-spacing:0.6px;color:#2b2b2b;line-height:20px;white-space:nowrap;position:absolute;font-weight:bold;letter-spacing:1.2px;left:1142.3px;width:100px;text-align:center;top:1078px">2025</div><div style="font-family:'Liberation Sans',sans-serif;font-size:17px;letter-spacing:0.6px;color:#2b2b2b;line-height:20px;white-space:nowrap;position:absolute;letter-spacing:0px;left:1219.9px;width:100px;text-align:center;top:1078px">Mar</div><div style="font-family:'Liberation Sans',sans-serif;font-size:17px;letter-spacing:0.6px;color:#2b2b2b;line-height:20px;white-space:nowrap;position:absolute;letter-spacing:0px;left:1307.3px;width:100px;text-align:center;top:1078px">May</div><div style="font-family:'Liberation Sans',sans-serif;font-size:17px;letter-spacing:0.6px;color:#2b2b2b;line-height:20px;white-space:nowrap;position:absolute;letter-spacing:0px;left:1394.6px;width:100px;text-align:center;top:1078px">Jul</div><div style="font-family:'Liberation Sans',sans-serif;font-size:17px;letter-spacing:0.6px;color:#2b2b2b;line-height:20px;white-space:nowrap;position:absolute;letter-spacing:0px;left:1472.2px;width:100px;text-align:center;top:1078px">Sep</div><div style="font-family:'Liberation Sans',sans-serif;font-size:17px;letter-spacing:0.6px;color:#2b2b2b;line-height:20px;white-space:nowrap;position:absolute;letter-spacing:0px;left:1559.5px;width:100px;text-align:center;top:1078px">Nov</div><div style="font-family:'Liberation Sans',sans-serif;font-size:17px;letter-spacing:0.6px;color:#2b2b2b;line-height:20px;white-space:nowrap;position:absolute;font-weight:bold;letter-spacing:1.2px;left:1646.9px;width:100px;text-align:center;top:1078px">2026</div><div style="font-family:'Liberation Sans',sans-serif;font-size:17px;letter-spacing:0.6px;color:#2b2b2b;line-height:20px;white-space:nowrap;position:absolute;letter-spacing:0px;left:1724.5px;width:100px;text-align:center;top:1078px">Mar</div><div style="font-family:'Liberation Sans',sans-serif;font-size:17px;letter-spacing:0.6px;color:#2b2b2b;line-height:20px;white-space:nowrap;position:absolute;letter-spacing:0px;left:1811.8px;width:100px;text-align:center;top:1078px">May</div><div style="position:absolute;left:1906px;top:196.6px;width:63.5px;height:22.6px;background:#4463f1;border-radius:0 3px 3px 0"></div><div style="font-family:'Liberation Sans',sans-serif;font-size:17px;letter-spacing:0.6px;color:#2b2b2b;line-height:20px;white-space:nowrap;position:absolute;color:#fff;letter-spacing:0.7px;left:1917px;top:199px">97.17</div><div style="position:absolute;left:1856px;top:695px;width:47.8px;height:23px;background:#dd3f4d;border-radius:3px 0 0 3px"></div><div style="font-family:'Liberation Sans',sans-serif;font-size:17px;letter-spacing:0.6px;color:#2b2b2b;line-height:20px;white-space:nowrap;position:absolute;color:#fde9ea;left:1862.6px;top:697px;font-size:17px;letter-spacing:0px;transform-origin:0 50%;transform:scaleX(0.93)">BVIV</div><div style="position:absolute;left:1906px;top:695px;width:73px;height:42px;background:#dd3f4d;border-radius:0 3px 3px 0"></div><div style="font-family:'Liberation Sans',sans-serif;font-size:17px;letter-spacing:0.6px;color:#2b2b2b;line-height:20px;white-space:nowrap;position:absolute;color:#fde9ea;letter-spacing:0.7px;left:1917px;top:697px">55.90</div><div style="font-family:'Liberation Sans',sans-serif;font-size:17px;letter-spacing:0.6px;color:#2b2b2b;line-height:20px;white-space:nowrap;position:absolute;color:#fbd5d8;left:1917px;top:716px">5d 15h</div>
</div>
<div id="cap"><span style="letter-spacing:-2px">BVIV</span><span style="letter-spacing:-1.7px"> (</span><span style="letter-spacing:1.75px">Trading</span><span>View)</span></div>
</body></html>
